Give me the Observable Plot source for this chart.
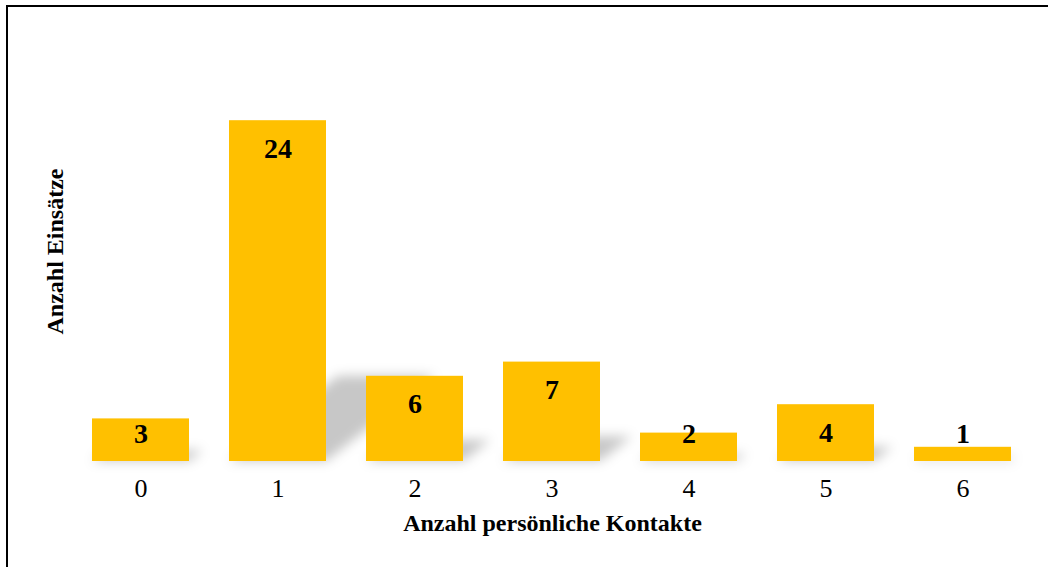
<!DOCTYPE html>
<html><head><meta charset="utf-8">
<script src="https://cdn.jsdelivr.net/npm/d3@7"></script>
<script src="https://cdn.jsdelivr.net/npm/@observablehq/plot@0.6"></script>
<style>
body{margin:0;background:#fff}
#wrap{position:relative;width:1048px;height:567px;overflow:hidden;background:#fff}
#wrap svg{display:block}
.line{position:absolute;background:#000}
</style></head><body>
<div id="wrap"><div class="line" style="left:6px;top:5px;width:1042px;height:2px"></div><div class="line" style="left:6px;top:5px;width:2px;height:562px"></div></div>
<script>
const categories = ["0","1","2","3","4","5","6"];
const counts = [3,24,6,7,2,4,1];
const xTitle = "Anzahl persönliche Kontakte";
const yTitle = "Anzahl Einsätze";
const data = categories.map((c,i)=>({k:c, v:counts[i]}));
const font = "'Liberation Serif', 'Times New Roman', serif";
const plot = Plot.plot({
  width:1048, height:567, marginLeft:72, marginRight:16, marginTop:35, marginBottom:106,
  style:{fontFamily:font, fontSize:"24px", background:"#fff", color:"#000"},
  x:{domain:categories, paddingInner:0.29, paddingOuter:0.145, label:null, axis:null},
  y:{domain:[0,30], axis:null},
  marks:[
    Plot.barY(data,{x:"k", y:"v", fill:"#000"}),
    Plot.barY(data,{x:"k", y:"v", fill:"#FFC000"}),
    Plot.text(data.filter(d=>d.v>=4), {x:"k", y:"v", text:d=>String(d.v), dy:28, fontWeight:"bold", fontSize:28, fill:"#000"}),
    Plot.text(data.filter(d=>d.v<4), {x:"k", y:0, text:d=>String(d.v), dy:-27, fontWeight:"bold", fontSize:28, fill:"#000"}),
    Plot.text(categories, {x:d=>d, text:d=>d, frameAnchor:"bottom", dy:35, fontSize:26, fill:"#000"}),
    Plot.text([xTitle], {text:d=>d, frameAnchor:"bottom", dy:69, fontWeight:"bold", fontSize:24, fill:"#000"}),
    Plot.text([yTitle], {text:d=>d, frameAnchor:"left", textAnchor:"middle", dx:-17, dy:3, rotate:-90, fontWeight:"bold", fontSize:24, fill:"#000"})
  ]
});
// perspective shadows behind bars
const ns = "http://www.w3.org/2000/svg";
const defs = document.createElementNS(ns, "defs");
defs.innerHTML = '<filter id="shBlur" x="-30%" y="-30%" width="160%" height="160%"><feGaussianBlur stdDeviation="6"/></filter>';
plot.insertBefore(defs, plot.firstChild);
const shadowG = plot.querySelectorAll('g[aria-label="bar"]')[0];
shadowG.setAttribute("filter", "url(#shBlur)");
shadowG.setAttribute("fill-opacity", "0.22");
shadowG.querySelectorAll("rect").forEach(r => {
  const x = +r.getAttribute("x"), y = +r.getAttribute("y");
  const w = +r.getAttribute("width"), h = +r.getAttribute("height");
  const base = y + h, sh = h * 0.25, dx = h * 0.32;
  const p = document.createElementNS(ns, "path");
  p.setAttribute("d", `M${x},${base}L${x+w},${base}L${x+w+dx},${base-sh}L${x+dx},${base-sh}Z`);
  p.setAttribute("fill", "#000");
  r.replaceWith(p);
});
const wrap = document.getElementById("wrap");
wrap.insertBefore(plot, wrap.firstChild);
</script>
</body></html>
